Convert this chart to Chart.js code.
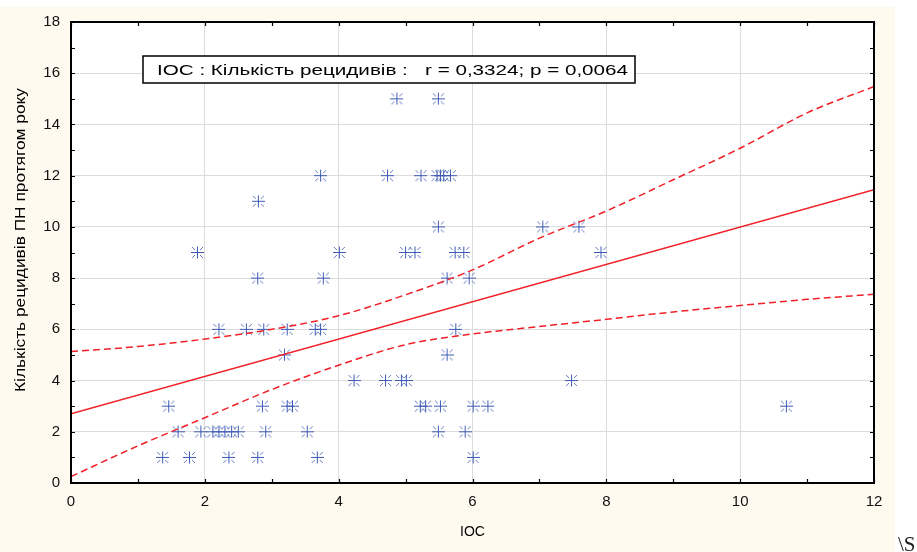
<!DOCTYPE html>
<html>
<head>
<meta charset="utf-8">
<script src="https://cdn.jsdelivr.net/npm/chart.js@4.4.1/dist/chart.umd.min.js"></script>
<style>
html,body{margin:0;padding:0;background:#fff;}
canvas{display:block;}
</style>
</head>
<body>
<canvas id="c" width="917" height="552"></canvas>
<script>
// ---- data ----
const xTickValues = [0, 2, 4, 6, 8, 10, 12];
const yTickValues = [0, 2, 4, 6, 8, 10, 12, 14, 16, 18];

const iocValues = [
  4.87, 5.49,
  3.73, 4.73, 5.23, 5.47, 5.52, 5.57, 5.67,
  2.80,
  5.49, 7.05, 7.59,
  1.89, 4.01, 5.00, 5.14, 5.74, 5.87, 7.92,
  2.79, 3.77, 5.62, 5.95,
  2.21, 2.62, 2.88, 3.23, 3.65, 3.73, 5.75,
  3.19, 5.62,
  4.23, 4.70, 4.94, 5.01, 7.48,
  1.46, 2.86, 3.23, 3.31, 5.22, 5.30, 5.52, 6.01, 6.23, 10.69,
  1.60, 1.94, 2.12, 2.21, 2.30, 2.40, 2.50, 2.91, 3.53, 5.49, 5.89,
  1.37, 1.77, 2.36, 2.79, 3.68, 6.01
];
const relapseValues = [
  15, 15,
  12, 12, 12, 12, 12, 12, 12,
  11,
  10, 10, 10,
  9, 9, 9, 9, 9, 9, 9,
  8, 8, 8, 8,
  6, 6, 6, 6, 6, 6, 6,
  5, 5,
  4, 4, 4, 4, 4,
  3, 3, 3, 3, 3, 3, 3, 3, 3, 3,
  2, 2, 2, 2, 2, 2, 2, 2, 2, 2, 2,
  1, 1, 1, 1, 1, 1
];

const fitX = [0, 12];
const fitY = [2.70, 11.45];

const bandX = [0, 1, 2, 3, 4, 5, 6, 7, 8, 9, 10, 11, 12];
const bandUpper = [5.13, 5.33, 5.62, 6.00, 6.53, 7.35, 8.32, 9.56, 10.62, 11.84, 13.07, 14.45, 15.48];
const bandLower = [0.25, 1.45, 2.55, 3.65, 4.60, 5.40, 5.82, 6.11, 6.39, 6.68, 6.93, 7.17, 7.37];

const legendText = 'IOC : Кількість рецидивів :   r = 0,3324; p = 0,0064';
const xTitle = 'IOC';
const yTitle = 'Кількість рецидивів ПН протягом року';

// ---- styling ----
const RED = 'rgb(240,32,40)';
const BLUE = '#3c5ab4';
const FONT = '"Liberation Sans", Arial, sans-serif';

function makeStar(color) {
  const c = document.createElement('canvas');
  c.width = 13; c.height = 13;
  const g = c.getContext('2d');
  g.strokeStyle = color;
  g.lineWidth = 1;
  g.beginPath();
  g.moveTo(0, 6.5); g.lineTo(13, 6.5);
  g.moveTo(6.5, 0.5); g.lineTo(6.5, 12.5);
  g.stroke();
  g.globalAlpha = 0.8;
  g.beginPath();
  [[1,1],[1,-1],[-1,1],[-1,-1]].forEach(([sx, sy]) => {
    g.moveTo(6.5 + sx * 2.5, 6.5 + sy * 2.5);
    g.lineTo(6.5 + sx * 5.5, 6.5 + sy * 5.5);
  });
  g.stroke();
  return c;
}
const star = makeStar(BLUE);

const toXY = (xs, ys) => xs.map((x, i) => ({x: x, y: ys[i]}));

const decorPlugin = {
  id: 'decor',
  beforeDraw(chart) {
    const ctx = chart.ctx, a = chart.chartArea;
    ctx.save();
    ctx.fillStyle = '#ffffff';
    ctx.fillRect(0, 0, chart.width, chart.height);
    ctx.fillStyle = '#fffaf0';
    ctx.fillRect(0, 7, 895, chart.height - 7);
    ctx.fillStyle = '#ffffff';
    ctx.fillRect(a.left, a.top, a.right - a.left, a.bottom - a.top);
    ctx.restore();
  },
  afterDraw(chart) {
    const ctx = chart.ctx, a = chart.chartArea;
    const xs = chart.scales.x, ys = chart.scales.y;
    ctx.save();
    // frame
    ctx.strokeStyle = '#000';
    ctx.lineWidth = 2;
    ctx.strokeRect(a.left, a.top, a.right - a.left, a.bottom - a.top);
    // inward ticks every unit
    ctx.lineWidth = 1.2;
    ctx.beginPath();
    for (let v = xs.min; v <= xs.max; v += 1) {
      const px = Math.round(xs.getPixelForValue(v)) + 0.5;
      ctx.moveTo(px, a.bottom); ctx.lineTo(px, a.bottom - 4);
      ctx.moveTo(px, a.top); ctx.lineTo(px, a.top + 4);
    }
    for (let v = ys.min; v <= ys.max; v += 1) {
      const py = Math.round(ys.getPixelForValue(v)) + 0.5;
      ctx.moveTo(a.left, py); ctx.lineTo(a.left + 4, py);
      ctx.moveTo(a.right, py); ctx.lineTo(a.right - 4, py);
    }
    ctx.stroke();

    // legend box
    const bx = 143, by = 56, bw = 492, bh = 27;
    ctx.fillStyle = '#fff';
    ctx.fillRect(bx, by, bw, bh);
    ctx.lineWidth = 1.5;
    ctx.strokeStyle = '#000';
    ctx.strokeRect(bx, by, bw, bh);
    ctx.fillStyle = '#000';
    ctx.font = '15px ' + FONT;
    ctx.textBaseline = 'middle';
    ctx.textAlign = 'left';
    const lw = ctx.measureText(legendText).width;
    ctx.save();
    ctx.translate(157, by + bh / 2 + 1);
    ctx.scale(471 / lw, 1);
    ctx.fillText(legendText, 0, 0);
    ctx.restore();

    // axis titles
    ctx.font = '14px ' + FONT;
    ctx.textAlign = 'center';
    ctx.textBaseline = 'middle';
    ctx.fillText(xTitle, (a.left + a.right) / 2, 532);

    ctx.save();
    ctx.font = '14px ' + FONT;
    const tw = ctx.measureText(yTitle).width;
    ctx.translate(21, 240);
    ctx.rotate(-Math.PI / 2);
    ctx.scale(304 / tw, 1);
    ctx.fillText(yTitle, 0, 0);
    ctx.restore();

    // stray text in the corner
    ctx.font = '21px "Liberation Serif", "Times New Roman", serif';
    ctx.textAlign = 'left';
    ctx.textBaseline = 'alphabetic';
    ctx.fillStyle = '#222';
    ctx.fillText('\\S', 898, 551);
    ctx.restore();
  }
};

new Chart(document.getElementById('c'), {
  type: 'scatter',
  data: {
    datasets: [
      {
        label: 'fit',
        data: toXY(fitX, fitY),
        showLine: true,
        borderColor: RED,
        borderWidth: 1.5,
        pointRadius: 0,
        fill: false,
        order: 0
      },
      {
        label: 'upper',
        data: toXY(bandX, bandUpper),
        showLine: true,
        borderColor: RED,
        borderWidth: 1.5,
        borderDash: [7, 4],
        pointRadius: 0,
        cubicInterpolationMode: 'monotone',
        fill: false,
        order: 0
      },
      {
        label: 'lower',
        data: toXY(bandX, bandLower),
        showLine: true,
        borderColor: RED,
        borderWidth: 1.5,
        borderDash: [7, 4],
        pointRadius: 0,
        cubicInterpolationMode: 'monotone',
        fill: false,
        order: 0
      },
      {
        label: 'points',
        data: toXY(iocValues, relapseValues),
        pointStyle: star,
        pointRadius: 6,
        showLine: false,
        order: 1
      }
    ]
  },
  options: {
    responsive: false,
    animation: false,
    devicePixelRatio: 1,
    layout: {padding: {left: 0, right: 43, top: 22, bottom: 0}},
    plugins: {legend: {display: false}, tooltip: {enabled: false}},
    scales: {
      x: {
        type: 'linear',
        min: 0, max: 12,
        afterBuildTicks: s => { s.ticks = xTickValues.map(v => ({value: v})); },
        afterFit: s => { s.height = 69; },
        grid: {color: '#dcdcdc', lineWidth: 1, drawTicks: false},
        border: {display: false},
        ticks: {font: {size: 15, family: FONT}, color: '#111', padding: 10, maxRotation: 0}
      },
      y: {
        type: 'linear',
        min: 0, max: 18,
        afterBuildTicks: s => { s.ticks = yTickValues.map(v => ({value: v})); },
        afterFit: s => { s.width = 71; },
        grid: {color: '#dcdcdc', lineWidth: 1, drawTicks: false},
        border: {display: false},
        ticks: {font: {size: 15, family: FONT}, color: '#111', padding: 11}
      }
    }
  },
  plugins: [decorPlugin]
});
</script>
</body>
</html>
